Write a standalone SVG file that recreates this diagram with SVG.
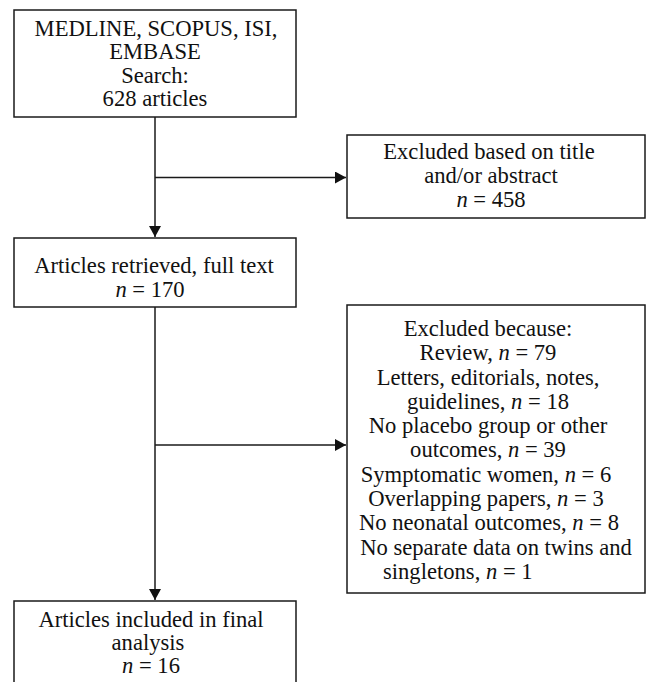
<svg xmlns="http://www.w3.org/2000/svg" width="647" height="682" viewBox="0 0 647 682">
<style>
.box{fill:#fff;stroke:#1a1a1a;stroke-width:1.5}
.t{font-family:"Liberation Serif","Times New Roman",serif;font-size:22.6px;fill:#111;text-anchor:middle}
.s{text-anchor:start}
.i{font-style:italic}
.ln{fill:none;stroke:#1a1a1a;stroke-width:1.5}
</style>
<defs>
<marker id="ah" viewBox="0 0 11 12" refX="11" refY="6" markerWidth="11" markerHeight="12" markerUnits="userSpaceOnUse" orient="auto">
<path d="M0,0 L11,6 L0,12 Z" fill="#111"/>
</marker>
</defs>
<rect width="647" height="682" fill="#fff"/>
<g id="connectors">
<line class="ln" x1="155" y1="117" x2="155" y2="237" marker-end="url(#ah)"/>
<line class="ln" x1="155" y1="177.5" x2="346" y2="177.5" marker-end="url(#ah)"/>
<line class="ln" x1="155" y1="307" x2="155" y2="600" marker-end="url(#ah)"/>
<line class="ln" x1="155" y1="445" x2="346" y2="445" marker-end="url(#ah)"/>
</g>
<g id="search">
<rect class="box" x="14" y="10" width="282" height="107"/>
<text class="t" x="156" y="36">MEDLINE, SCOPUS, ISI,</text>
<text class="t" x="155" y="59">EMBASE</text>
<text class="t" x="155" y="83">Search:</text>
<text class="t" x="155" y="106">628 articles</text>
</g>
<g id="excluded1">
<rect class="box" x="347" y="135" width="298" height="83"/>
<text class="t" x="489" y="159">Excluded based on title</text>
<text class="t" x="491" y="183">and/or abstract</text>
<text class="t" x="491" y="207"><tspan class="i">n</tspan> = 458</text>
</g>
<g id="retrieved">
<rect class="box" x="14" y="238" width="282" height="69"/>
<text class="t" x="154" y="273">Articles retrieved, full text</text>
<text class="t" x="150" y="297"><tspan class="i">n</tspan> = 170</text>
</g>
<g id="excluded2">
<rect class="box" x="347" y="305" width="298" height="288"/>
<text class="t" x="488" y="336">Excluded because:</text>
<text class="t" x="488" y="360">Review, <tspan class="i">n</tspan> = 79</text>
<text class="t" x="488" y="385">Letters, editorials, notes,</text>
<text class="t" x="488" y="409">guidelines, <tspan class="i">n</tspan> = 18</text>
<text class="t" x="488" y="433">No placebo group or other</text>
<text class="t" x="488" y="457">outcomes, <tspan class="i">n</tspan> = 39</text>
<text class="t" x="486" y="482">Symptomatic women, <tspan class="i">n</tspan> = 6</text>
<text class="t" x="486" y="506">Overlapping papers, <tspan class="i">n</tspan> = 3</text>
<text class="t" x="489" y="530">No neonatal outcomes, <tspan class="i">n</tspan> = 8</text>
<text class="t" x="496" y="555">No separate data on twins and</text>
<text class="t s" x="383" y="579">singletons, <tspan class="i">n</tspan> = 1</text>
</g>
<g id="included">
<path class="box" d="M14,682 L14,601 L296,601 L296,682"/>
<text class="t" x="151" y="627">Articles included in final</text>
<text class="t" x="148" y="650">analysis</text>
<text class="t" x="151" y="673"><tspan class="i">n</tspan> = 16</text>
</g>
</svg>
